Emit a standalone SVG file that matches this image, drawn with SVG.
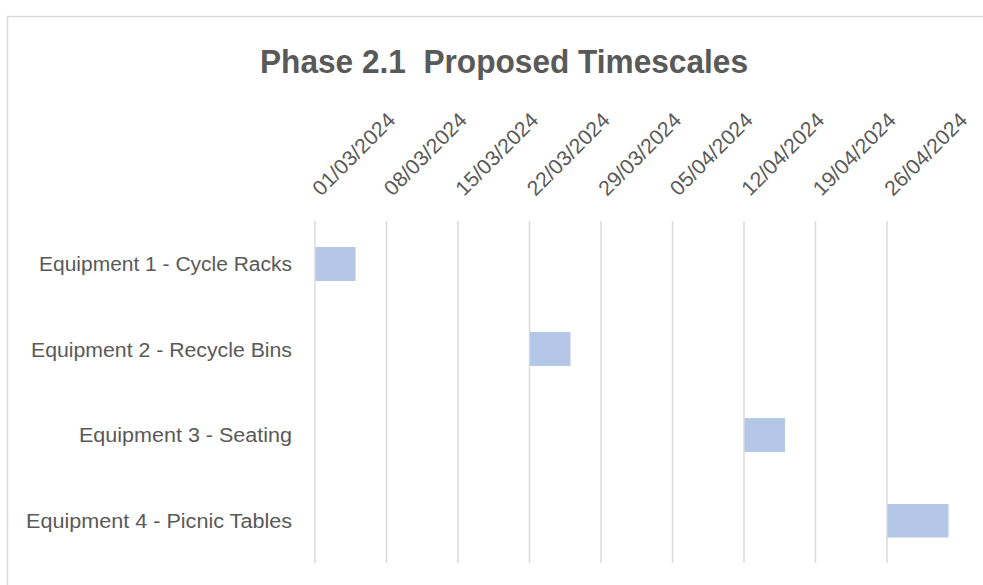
<svg xmlns="http://www.w3.org/2000/svg" width="983" height="585" viewBox="0 0 983 585">
<style>
.grid{stroke:#d9d9d9;stroke-width:1.5}
.bar{fill:#b4c7e7}
.lbl{font-family:"Liberation Sans",Arial,sans-serif;font-size:20px;fill:#595959;text-anchor:end}
.dt{font-family:"Liberation Sans",Arial,sans-serif;font-size:21px;fill:#595959}
.title{font-family:"Liberation Sans",Arial,sans-serif;font-size:34px;font-weight:bold;fill:#595959;text-anchor:middle}
</style>
<rect x="0" y="0" width="983" height="585" fill="#ffffff"/>
<rect x="7.5" y="16.5" width="1000" height="600" fill="#ffffff" stroke="#d9d9d9" stroke-width="1.5"/>
<text class="title" x="504" y="73" textLength="488" lengthAdjust="spacingAndGlyphs">Phase 2.1 &#160;Proposed Timescales</text>
<g id="grid">
<line class="grid" x1="315" y1="221" x2="315" y2="563"/>
<line class="grid" x1="386.5" y1="221" x2="386.5" y2="563"/>
<line class="grid" x1="458" y1="221" x2="458" y2="563"/>
<line class="grid" x1="529.5" y1="221" x2="529.5" y2="563"/>
<line class="grid" x1="601" y1="221" x2="601" y2="563"/>
<line class="grid" x1="672.5" y1="221" x2="672.5" y2="563"/>
<line class="grid" x1="744" y1="221" x2="744" y2="563"/>
<line class="grid" x1="815.5" y1="221" x2="815.5" y2="563"/>
<line class="grid" x1="887" y1="221" x2="887" y2="563"/>
</g>
<g id="dates">
<text class="dt" transform="translate(321,197) rotate(-45)" textLength="107" lengthAdjust="spacingAndGlyphs">01/03/2024</text>
<text class="dt" transform="translate(392.5,197) rotate(-45)" textLength="107" lengthAdjust="spacingAndGlyphs">08/03/2024</text>
<text class="dt" transform="translate(464,197) rotate(-45)" textLength="107" lengthAdjust="spacingAndGlyphs">15/03/2024</text>
<text class="dt" transform="translate(535.5,197) rotate(-45)" textLength="107" lengthAdjust="spacingAndGlyphs">22/03/2024</text>
<text class="dt" transform="translate(607,197) rotate(-45)" textLength="107" lengthAdjust="spacingAndGlyphs">29/03/2024</text>
<text class="dt" transform="translate(678.5,197) rotate(-45)" textLength="107" lengthAdjust="spacingAndGlyphs">05/04/2024</text>
<text class="dt" transform="translate(750,197) rotate(-45)" textLength="107" lengthAdjust="spacingAndGlyphs">12/04/2024</text>
<text class="dt" transform="translate(821.5,197) rotate(-45)" textLength="107" lengthAdjust="spacingAndGlyphs">19/04/2024</text>
<text class="dt" transform="translate(893,197) rotate(-45)" textLength="107" lengthAdjust="spacingAndGlyphs">26/04/2024</text>
</g>
<g id="task1">
<text class="lbl" x="292" y="271" textLength="253" lengthAdjust="spacingAndGlyphs">Equipment 1 - Cycle Racks</text>
<rect class="bar" x="315.5" y="247" width="40" height="34"/>
</g>
<g id="task2">
<text class="lbl" x="292" y="357" textLength="261" lengthAdjust="spacingAndGlyphs">Equipment 2 - Recycle Bins</text>
<rect class="bar" x="530" y="332" width="40.5" height="34"/>
</g>
<g id="task3">
<text class="lbl" x="292" y="442" textLength="213" lengthAdjust="spacingAndGlyphs">Equipment 3 - Seating</text>
<rect class="bar" x="744.5" y="418" width="40.5" height="34"/>
</g>
<g id="task4">
<text class="lbl" x="292" y="528" textLength="266" lengthAdjust="spacingAndGlyphs">Equipment 4 - Picnic Tables</text>
<rect class="bar" x="887.5" y="504" width="61" height="33.5"/>
</g>
</svg>
